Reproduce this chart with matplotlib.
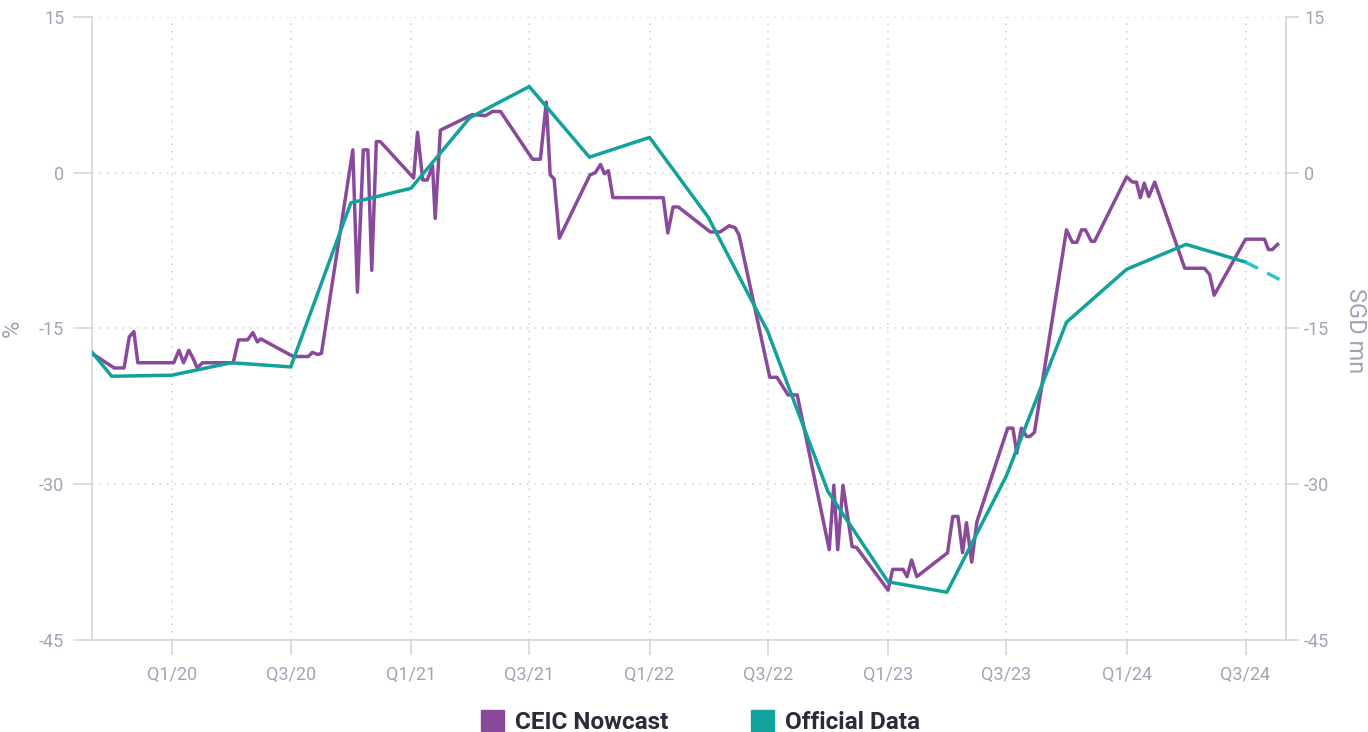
import numpy as np
import pandas as pd
import matplotlib
matplotlib.use("Agg")
import matplotlib.pyplot as plt
from matplotlib.patches import Patch

plt.rcParams['font.family'] = ['Roboto', 'DejaVu Sans']

# official quarterly data (%)
official_dates = ['2019-09-01', '2019-10-01', '2020-01-01', '2020-04-01', '2020-07-01',
                  '2020-10-01', '2021-01-01', '2021-04-01', '2021-07-01', '2021-10-01',
                  '2022-01-01', '2022-04-01', '2022-07-01', '2022-10-01', '2023-01-01',
                  '2023-04-01', '2023-07-01', '2023-10-01', '2024-01-01', '2024-04-01',
                  '2024-07-01']
official_vals = [-17.3, -19.6, -19.5, -18.3, -18.7,
                 -2.9, -1.5, 5.3, 8.3, 1.5,
                 3.4, -4.3, -15.3, -30.7, -39.4,
                 -40.4, -29.2, -14.4, -9.3, -6.9,
                 -8.6]
# dashed projection
proj_dates = ['2024-07-01', '2024-09-01']
proj_vals = [-8.6, -10.6]

# CEIC nowcast
nowcast_dates = ['2019-09-03', '2019-10-05', '2019-10-20', '2019-10-28', '2019-11-04',
                 '2019-11-10', '2020-01-04', '2020-01-12', '2020-01-19', '2020-01-27',
                 '2020-02-02', '2020-02-09', '2020-02-17', '2020-04-04', '2020-04-12',
                 '2020-04-26', '2020-05-04', '2020-05-11', '2020-05-16', '2020-07-05',
                 '2020-07-28', '2020-08-03', '2020-08-11', '2020-08-17', '2020-10-04',
                 '2020-10-11', '2020-10-20', '2020-10-27', '2020-11-02', '2020-11-09',
                 '2020-11-15', '2021-01-05', '2021-01-11', '2021-01-19', '2021-01-26',
                 '2021-02-03', '2021-02-07', '2021-02-15', '2021-04-05', '2021-04-25',
                 '2021-05-06', '2021-05-18', '2021-07-06', '2021-07-18', '2021-07-27',
                 '2021-08-02', '2021-08-08', '2021-08-16', '2021-10-02', '2021-10-10',
                 '2021-10-18', '2021-10-24', '2021-10-30', '2021-11-06', '2022-01-22',
                 '2022-01-29', '2022-02-06', '2022-02-14', '2022-04-04', '2022-04-19',
                 '2022-05-03', '2022-05-12', '2022-05-18', '2022-07-04', '2022-07-15',
                 '2022-08-01', '2022-08-15', '2022-10-03', '2022-10-10', '2022-10-16',
                 '2022-10-24', '2022-11-07', '2022-11-14', '2023-01-01', '2023-01-08',
                 '2023-01-24', '2023-01-30', '2023-02-06', '2023-02-14', '2023-04-02',
                 '2023-04-10', '2023-04-18', '2023-04-25', '2023-05-01', '2023-05-09',
                 '2023-05-17', '2023-07-03', '2023-07-11', '2023-07-17', '2023-07-24',
                 '2023-08-01', '2023-08-06', '2023-08-13', '2023-10-01', '2023-10-10',
                 '2023-10-17', '2023-10-24', '2023-10-30', '2023-11-08', '2023-11-13',
                 '2024-01-01', '2024-01-10', '2024-01-16', '2024-01-22', '2024-01-28',
                 '2024-02-04', '2024-02-13', '2024-03-30', '2024-04-29', '2024-05-07',
                 '2024-05-14', '2024-07-01', '2024-07-30', '2024-08-05', '2024-08-11',
                 '2024-08-19']
nowcast_vals = [-17.5, -18.8, -18.8, -15.8, -15.3,
                -18.3, -18.3, -17.1, -18.3, -17.1,
                -17.8, -18.8, -18.3, -18.3, -16.1,
                -16.1, -15.4, -16.3, -16.0, -17.7,
                -17.7, -17.3, -17.5, -17.4, 2.2,
                -11.5, 2.2, 2.2, -9.4, 3.0,
                3.0, -0.5, 3.9, -0.7, -0.7,
                0.7, -4.4, 4.1, 5.6, 5.5,
                5.9, 5.9, 1.3, 1.3, 6.8,
                -0.2, -0.6, -6.3, -0.2, 0.0,
                0.8, -0.1, 0.2, -2.4, -2.4,
                -5.8, -3.3, -3.3, -5.7, -5.7,
                -5.1, -5.3, -6.0, -19.7, -19.7,
                -21.4, -21.4, -36.3, -30.1, -36.3,
                -30.1, -36.0, -36.1, -40.2, -38.2,
                -38.2, -38.9, -37.3, -38.9, -36.6,
                -33.1, -33.1, -36.6, -33.7, -37.5,
                -33.6, -24.6, -24.6, -27.0, -24.6,
                -25.4, -25.4, -25.0, -5.5, -6.7,
                -6.7, -5.5, -5.5, -6.6, -6.6,
                -0.4, -0.9, -0.9, -2.4, -1.0,
                -2.3, -0.9, -9.2, -9.2, -9.8,
                -11.8, -6.4, -6.4, -7.4, -7.4,
                -6.9]

tick_dates = ['2020-01-01', '2020-07-01', '2021-01-01', '2021-07-01', '2022-01-01',
              '2022-07-01', '2023-01-01', '2023-07-01', '2024-01-01', '2024-07-01']
tick_labels = ['Q1/20', 'Q3/20', 'Q1/21', 'Q3/21', 'Q1/22',
               'Q3/22', 'Q1/23', 'Q3/23', 'Q1/24', 'Q3/24']
y_ticks = [-45, -30, -15, 0, 15]

purple = '#8a4a9b'
teal = '#13a19b'
teal_light = '#2cc6cb'
txt = '#a3a3b8'
axis_col = '#d6d6e0'

fig = plt.figure(figsize=(13.68, 7.32), dpi=100)
ax = fig.add_axes([0.0673, 0.1257, 0.8728, 0.8511])

ax.plot(pd.to_datetime(nowcast_dates), nowcast_vals, color=purple, lw=2.5, zorder=3)
ax.plot(pd.to_datetime(official_dates), official_vals, color=teal, lw=2.5, zorder=4)
ax.plot(pd.to_datetime(proj_dates), proj_vals, color=teal_light, lw=2.5,
        dashes=(4, 3), zorder=4)

ax.set_xlim(pd.Timestamp('2019-09-01'), pd.Timestamp('2024-09-01'))
ax.set_ylim(-45, 15)
ax.set_xticks(pd.to_datetime(tick_dates))
ax.set_xticklabels(tick_labels)
ax.set_yticks(y_ticks)
ax.set_yticklabels([str(v) for v in y_ticks])

ax.grid(True, color='#d4d4dc', linestyle=(0, (1, 3.5)), lw=1.2)
ax.tick_params(axis='x', colors=axis_col, labelcolor=txt, labelsize=13,
               length=11, width=1.2, pad=8)
ax.tick_params(axis='y', colors=axis_col, labelcolor=txt, labelsize=13,
               length=14, width=1.2, pad=6)
ax.spines['top'].set_visible(False)
for side in ['left', 'right', 'bottom']:
    ax.spines[side].set_color(axis_col)
    ax.spines[side].set_linewidth(1.2)

ax2 = ax.twinx()
ax2.set_ylim(-45, 15)
ax2.set_yticks(y_ticks)
ax2.set_yticklabels([str(v) for v in y_ticks])
ax2.tick_params(axis='y', colors=axis_col, labelcolor=txt, labelsize=13,
                length=9, width=1.2, pad=4)
for side in ['top', 'left', 'bottom']:
    ax2.spines[side].set_visible(False)
ax2.spines['right'].set_color(axis_col)
ax2.spines['right'].set_linewidth(1.2)

fig.text(0.009, 0.551, '%', rotation=90, color=txt, fontsize=17,
         ha='center', va='center')
fig.text(0.9905, 0.549, 'SGD mn', rotation=270, color=txt, fontsize=17,
         ha='center', va='center')

handles = [Patch(facecolor=purple, edgecolor=purple),
           Patch(facecolor=teal, edgecolor=teal)]
leg = fig.legend(handles, ['CEIC Nowcast', 'Official Data'], loc='center',
                 bbox_to_anchor=(0.512, 0.014), ncol=2, frameon=False,
                 handlelength=0.95, handleheight=0.95, columnspacing=3.4,
                 handletextpad=0.45, prop={'weight': 'bold', 'size': 17.5})
for t in leg.get_texts():
    t.set_color('#2b2b3a')

fig.savefig('out.png', dpi=100)
